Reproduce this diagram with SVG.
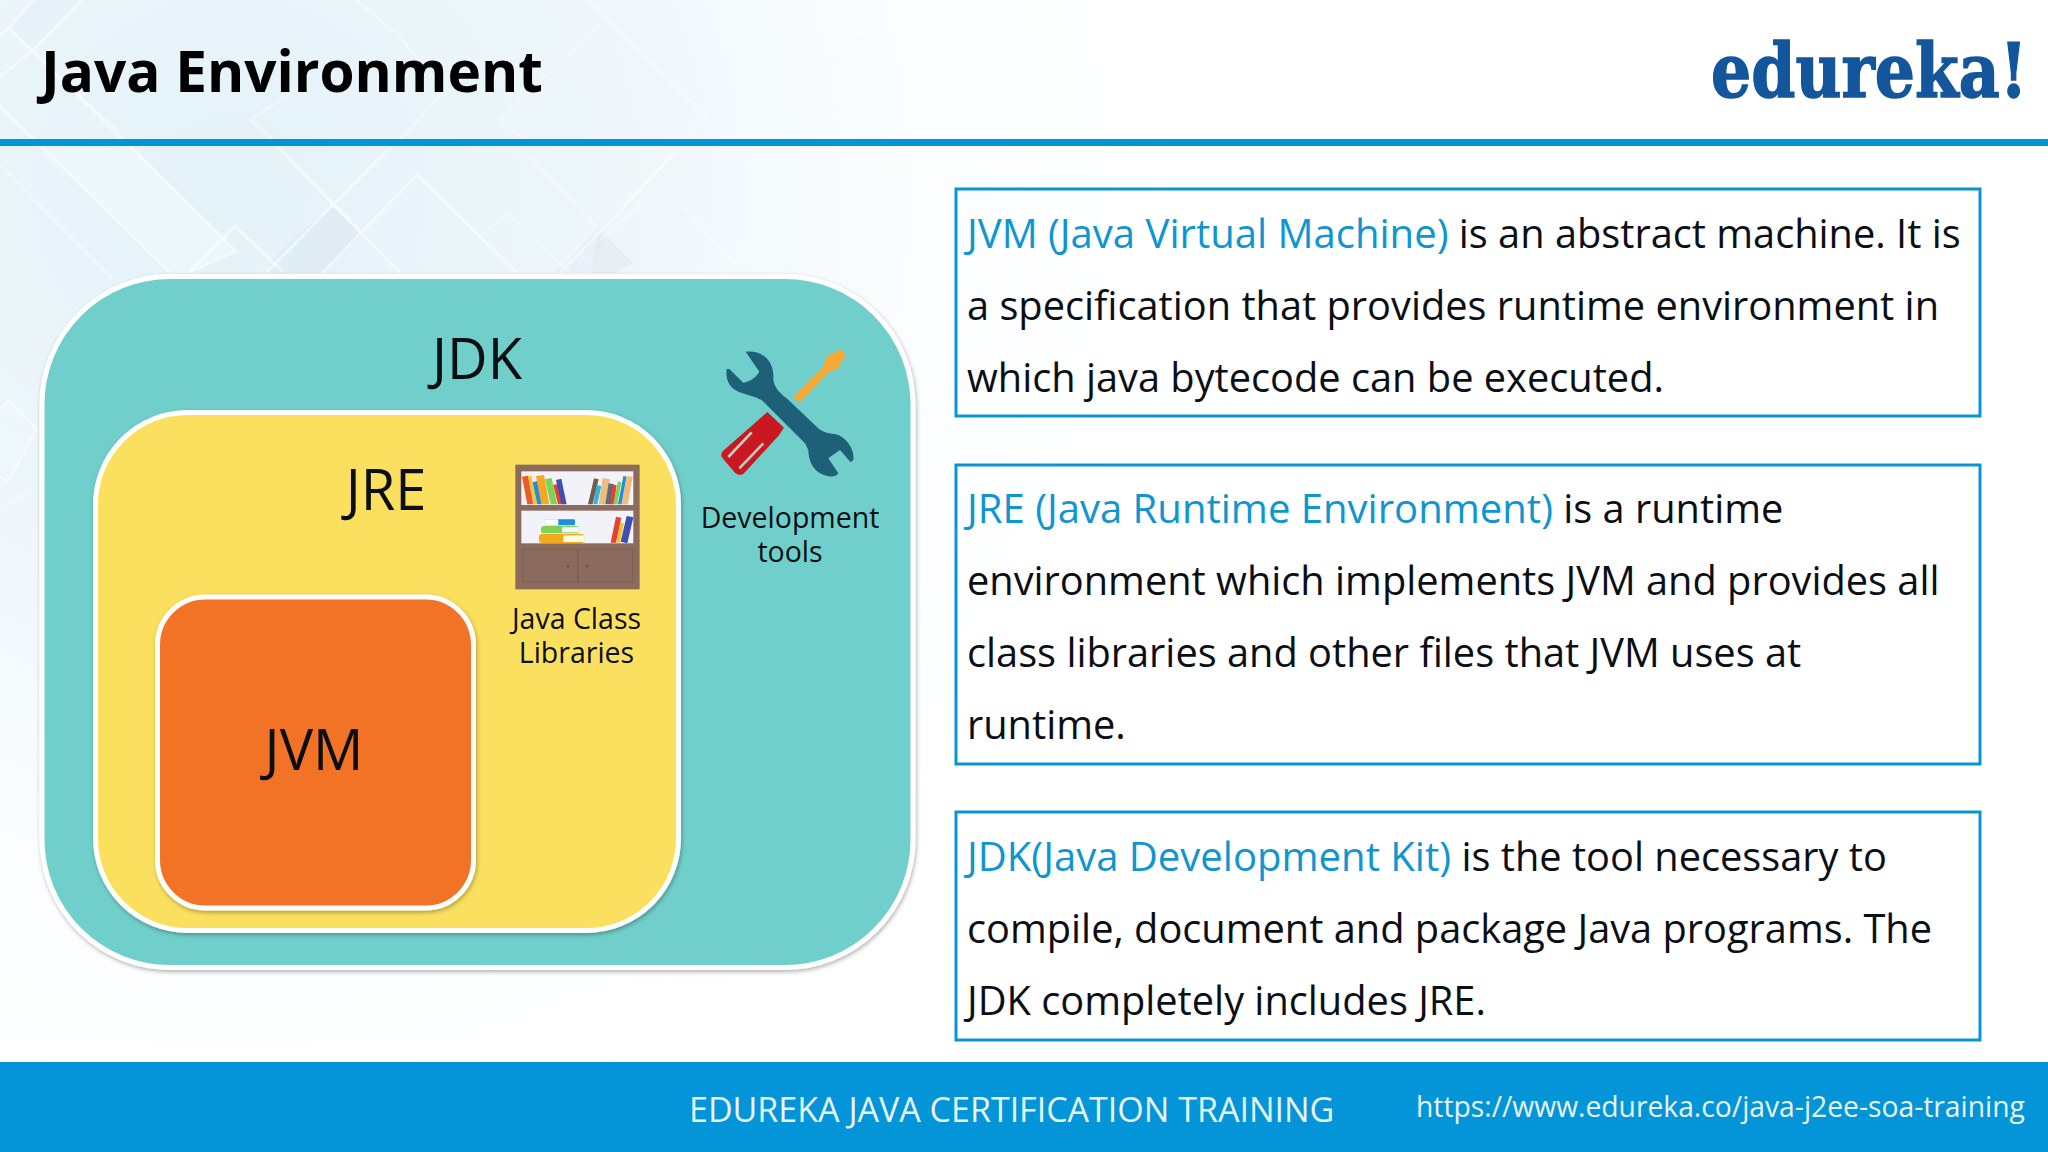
<svg xmlns="http://www.w3.org/2000/svg" width="2048" height="1152" viewBox="0 0 2048 1152">
<defs>
<radialGradient id="bg" gradientUnits="userSpaceOnUse" cx="230" cy="190" r="1000"><stop offset="0" stop-color="#e3f2f7"/><stop offset="0.35" stop-color="#edf6fb"/><stop offset="0.7" stop-color="#fbfdfe"/><stop offset="0.95" stop-color="#ffffff"/></radialGradient>
<filter id="sh" x="-5%" y="-5%" width="110%" height="110%"><feDropShadow dx="1" dy="2" stdDeviation="2" flood-color="#000" flood-opacity=".3"/></filter>
</defs>
<style>
text{font-family:"Open Sans","Noto Sans","Liberation Sans",sans-serif;fill:#0b0f14}
.body{font-size:39.75px}
.hl{fill:#0f95d0;font-size:40.05px}
.cap{font-size:28.5px;text-anchor:middle}
.big{font-size:56px;text-anchor:middle}
.box{fill:none;stroke:#0a95d0;stroke-width:3}
.pat{fill:none;stroke:#fff;stroke-width:3;opacity:.5}
.faint{fill:none;stroke:#fff;stroke-width:3;opacity:.3}
.blob{stroke:#fff;stroke-width:5}
</style>
<rect id="background" width="2048" height="1152" fill="url(#bg)"/>
<g id="pattern">
<polygon points="300,233 333,207 362,235 322,273 290,273" fill="#d8e5ee" opacity=".55"/>
<polygon points="270,262 300,232 290,273 270,273" fill="#d8e5ee" opacity=".4"/>
<polygon points="600,230 633,263 617,273 590,273" fill="#dde7ee" opacity=".5"/>
<polygon points="560,267 597,227 605,240 590,273 555,273" fill="#e0e9f0" opacity=".35"/>
<polygon points="133,146 236,251 190,273 170,273 45,150" fill="#f2fbfe" opacity=".5"/>
<polygon points="9,28 33,50 82,0 33,0" fill="#e0edf3" opacity=".4"/>
<polygon points="10,395 37,429 8,480 0,470 0,409" fill="#f0fafd" opacity=".6"/>
<polyline class="pat" points="9,28 236,251 190,272"/>
<polyline class="pat" points="0,106 170,273"/>
<polyline class="faint" points="0,166 113,279"/>
<polyline class="pat" points="190,272 235,226 283,272"/>
<polyline class="pat" points="277,146 400,273"/>
<polyline class="pat" points="267,272 333,205 387,150"/>
<polyline class="pat" points="322,273 417,175 517,273"/>
<polyline class="pat" points="560,273 600,232 677,150"/>
<polyline class="faint" points="483,235 507,213 570,273"/>
<polyline class="faint" points="530,157 597,227 560,267"/>
<polyline class="pat" points="0,35 9,28 33,0"/>
<polyline class="pat" points="0,77 33,50 82,0"/>
<polyline class="faint" points="33,50 60,78 120,133"/>
<polyline class="faint" points="300,87 250,120 273,139"/>
<polyline class="faint" points="390,150 443,93"/>
<polyline class="faint" points="527,143 500,120 600,23"/>
<polyline class="faint" points="587,0 707,117 690,133"/>
<polyline class="faint" points="357,0 400,37 440,85"/>
<polyline class="faint" points="840,0 860,30 910,77"/>
<polyline class="faint" points="890,0 803,90 833,120"/>
<polyline class="faint" points="683,207 743,273"/>
<polyline class="faint" points="600,240 640,205"/>
<polyline class="pat" points="0,409 8,401 37,429 8,482 0,476"/>
<polyline class="faint" points="0,719 35,740"/>
<polyline class="faint" points="0,510 30,490"/>
</g>
<g id="header">
<rect y="139" width="2048" height="7" fill="#0495d8"/>
<text x="41" y="92" font-size="56.7" font-weight="700" style="fill:#000">Java Environment</text>
<text id="logo" transform="translate(1711,97) scale(.843,1)" x="0" y="0" font-size="75" font-weight="700" stroke="#13569b" stroke-width="1.5" style="font-family:'DejaVu Serif','Liberation Serif',serif;fill:#13569b">edureka!</text>
</g>
<g id="jdk">
<rect class="blob" filter="url(#sh)" x="42" y="276.5" width="871" height="691" rx="128" fill="#6fcfca"/>
<text class="big" x="477" y="379">JDK</text>
</g>
<g id="jre">
<rect class="blob" filter="url(#sh)" x="95.5" y="412.5" width="583" height="518" rx="92" fill="#fbe05e"/>
<text class="big" x="386" y="510">JRE</text>
</g>
<g id="jvm">
<rect class="blob" filter="url(#sh)" x="157.5" y="597" width="316" height="311" rx="48" fill="#f27226"/>
<text class="big" x="314" y="770">JVM</text>
</g>
<g id="java-class-libraries">
<g transform="translate(490,450) scale(.3333)">
<rect x="76" y="44" width="373" height="374" fill="#8b6b5e"/>
<rect x="94" y="64" width="336" height="101" fill="#f2f3f8"/>
<rect x="94" y="182" width="336" height="98" fill="#f2f3f8"/>
<g stroke="#7c5f53" stroke-width="3" fill="none"><rect x="98" y="298" width="164" height="98"/><rect x="264" y="298" width="164" height="98"/></g>
<circle cx="234" cy="348" r="4" fill="#6e5348"/><circle cx="292" cy="348" r="4" fill="#6e5348"/>
<polygon points="96,80 114,77 130,163 112,163" fill="#ee5a24"/>
<polygon points="114,78 124,77 142,163 132,163" fill="#f9c22e"/>
<polygon points="128,97 142,93 156,163 142,163" fill="#1e8fe0"/>
<polygon points="138,78 162,75 178,163 154,163" fill="#f5a623"/>
<polygon points="165,88 185,84 202,163 182,163" fill="#7ed257"/>
<polygon points="190,105 202,102 216,163 204,163" fill="#e8402f"/>
<polygon points="198,90 214,86 230,163 214,163" fill="#3f4fb0"/>
<polygon points="312,85 326,88 308,163 294,163" fill="#7a5a4f"/>
<polygon points="320,105 334,108 322,163 310,163" fill="#2fb6e0"/>
<polygon points="338,84 360,88 346,163 326,163" fill="#eebd7e"/>
<polygon points="356,100 372,103 362,163 346,163" fill="#5b6b7a"/>
<polygon points="368,104 380,106 372,163 360,163" fill="#e8402f"/>
<polygon points="384,94 394,97 382,163 370,163" fill="#7ed257"/>
<polygon points="400,78 410,80 396,163 384,163" fill="#1e8fe0"/>
<polygon points="410,78 428,80 414,163 394,163" fill="#eebd7e"/>
<rect x="165" y="208" width="90" height="18" rx="4" fill="#1e8fe0"/><rect x="165" y="208" width="40" height="18" rx="4" fill="#fff"/>
<rect x="153" y="228" width="115" height="22" rx="8" fill="#7ed257"/><rect x="216" y="231" width="52" height="16" fill="#f4f6f4"/>
<rect x="147" y="252" width="136" height="27" rx="9" fill="#f2a81f"/><rect x="220" y="256" width="63" height="20" fill="#fffbe0"/>
<polygon points="378,200 394,203 378,278 362,278" fill="#e8402f"/>
<polygon points="392,218 402,220 390,278 378,278" fill="#f9c22e"/>
<polygon points="410,198 430,202 412,280 392,275" fill="#3f4fb0"/>
</g>
<text class="cap" x="576.5" y="629">Java Class</text>
<text class="cap" x="576.5" y="663">Libraries</text>
</g>
<g id="development-tools">
<g transform="translate(680,330) scale(.3333)">
<polygon points="340,200 430,112 438,82 480,58 497,75 472,118 447,125 358,218" fill="#f5a836"/>
<path d="M262,246 L312,293 L295,318 L192,430 C182,438 172,434 165,428 L128,385 C120,375 125,365 135,358 Z" fill="#c9181f"/>
<g stroke="#c4c9c9" stroke-width="8"><line x1="215" y1="307" x2="145" y2="381"/><line x1="250" y1="340" x2="178" y2="415"/></g>
<path d="M197,65 C240,60 285,85 280,150 C285,175 300,190 320,205 L410,290 C425,305 440,310 465,312 C500,320 525,360 520,390 L512,397 L480,360 L445,385 L475,430 C465,445 440,440 420,430 C395,415 385,385 385,360 L375,340 L245,210 C225,200 205,195 175,185 C150,175 135,150 140,117 L148,117 L190,158 C210,155 230,140 238,125 Z" fill="#1f6079"/>
</g>
<text class="cap" x="790" y="528">Development</text>
<text class="cap" x="790" y="562">tools</text>
</g>
<g id="jvm-description">
<rect class="box" x="956" y="189" width="1024" height="227"/>
<text class="body" x="967" y="248"><tspan class="hl">JVM (Java Virtual Machine)</tspan> is an abstract machine. It is</text>
<text class="body" x="967" y="320">a specification that provides runtime environment in</text>
<text class="body" x="967" y="392">which java bytecode can be executed.</text>
</g>
<g id="jre-description">
<rect class="box" x="956" y="465" width="1024" height="299"/>
<text class="body" x="967" y="523"><tspan class="hl">JRE (Java Runtime Environment)</tspan> is a runtime</text>
<text class="body" x="967" y="595">environment which implements JVM and provides all</text>
<text class="body" x="967" y="667">class libraries and other files that JVM uses at</text>
<text class="body" x="967" y="739">runtime.</text>
</g>
<g id="jdk-description">
<rect class="box" x="956" y="812" width="1024" height="228"/>
<text class="body" x="967" y="871"><tspan class="hl">JDK(Java Development Kit)</tspan> is the tool necessary to</text>
<text class="body" x="967" y="943">compile, document and package Java programs. The</text>
<text class="body" x="967" y="1015">JDK completely includes JRE.</text>
</g>
<g id="footer">
<rect y="1062" width="2048" height="90" fill="#0495d8"/>
<text x="689" y="1122" font-size="34" style="fill:#e8f4fb">EDUREKA JAVA CERTIFICATION TRAINING</text>
<text x="1416" y="1117" font-size="28.25" style="fill:#e8f4fb">https://www.edureka.co/java-j2ee-soa-training</text>
</g>
<g id="connectors"></g>
</svg>
